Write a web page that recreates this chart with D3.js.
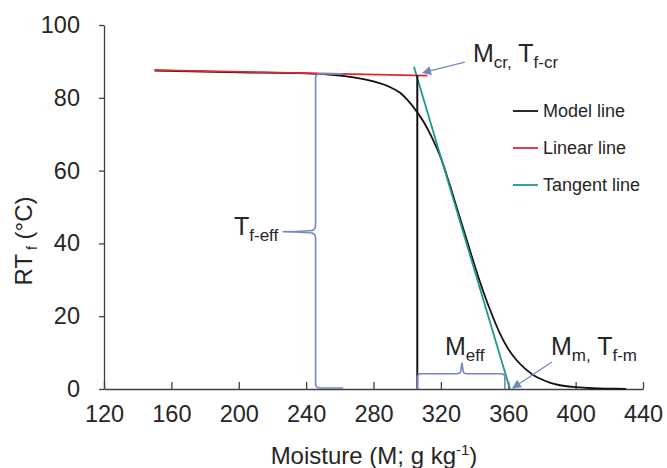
<!DOCTYPE html>
<html>
<head>
<meta charset="utf-8">
<script src="https://cdn.jsdelivr.net/npm/d3@7"></script>
<style>
  body { margin: 0; background: #fff; }
  svg { display: block; font-family: "Liberation Sans", Arial, sans-serif; }
</style>
</head>
<body>
<div id="chart"></div>
<script>
// values
var xTicks = [120, 160, 200, 240, 280, 320, 360, 400, 440];
var yTicks = [0, 20, 40, 60, 80, 100];

var modelM = [150, 200, 240, 250, 260, 270, 280, 290, 296, 300, 306, 310, 315, 320, 325, 330, 335, 340, 345, 350, 355, 360, 365, 370, 375, 380, 385, 390, 400, 410, 420, 430];
var modelT = [87.5, 87.0, 86.7, 86.5, 86.1, 85.5, 84.5, 82.9, 81.3, 79.5, 76.0, 73.2, 68.8, 63.5, 56.5, 49.0, 41.5, 34.0, 27.0, 20.8, 15.3, 11.0, 7.9, 5.6, 3.8, 2.6, 1.7, 1.1, 0.5, 0.2, 0.1, 0.05];

var linearM = [150, 312];
var linearT = [87.6, 86.1];

var tangentM = [304, 361];
var tangentT = [88.5, 0];

var critM = 306, critT = 86.2;

var legendNames = ["Model line", "Linear line", "Tangent line"];
var legendColors = ["#111111", "#e3262b", "#1e9a8a"];

var W = 667, H = 468;
var x = d3.scaleLinear().domain([120, 440]).range([104, 643]);
var y = d3.scaleLinear().domain([0, 100]).range([389, 25]);

var svg = d3.select("#chart").append("svg")
    .attr("width", W)
    .attr("height", H);

var axisColor = "#404040";
var textColor = "#262626";
var braceColor = "#7088be";

// axes
var gx = svg.append("g")
    .attr("transform", "translate(0," + y(0) + ")")
    .call(d3.axisBottom(x).tickValues(xTicks).tickSizeInner(-7).tickSizeOuter(0).tickPadding(16));
var gy = svg.append("g")
    .attr("transform", "translate(" + x(120) + ",0)")
    .call(d3.axisLeft(y).tickValues(yTicks).tickSizeInner(5).tickSizeOuter(0).tickPadding(19));
[gx, gy].forEach(function (g) {
    g.selectAll("path, line").attr("stroke", axisColor).attr("stroke-width", 1.3);
    g.selectAll("text").attr("fill", textColor).style("font-size", "23.5px");
});

// axis titles
var xt = svg.append("text")
    .attr("x", 374).attr("y", 464)
    .attr("text-anchor", "middle")
    .attr("fill", textColor)
    .style("font-size", "24px");
xt.append("tspan").text("Moisture  (M; g kg");
xt.append("tspan").attr("dy", -9).style("font-size", "15px").text("-1");
xt.append("tspan").attr("dy", 9).text(")");

var yt = svg.append("text")
    .attr("transform", "translate(32,241) rotate(-90)")
    .attr("text-anchor", "middle")
    .attr("fill", textColor)
    .style("font-size", "24px");
yt.append("tspan").text("RT");
yt.append("tspan").attr("dy", 5).style("font-size", "14px").text(" f");
yt.append("tspan").attr("dy", -5).text(" (°C)");

// lines
var line = d3.line().x(function (d) { return x(d[0]); }).y(function (d) { return y(d[1]); });

svg.append("path")
    .datum(modelM.map(function (m, i) { return [m, modelT[i]]; }))
    .attr("d", line.curve(d3.curveMonotoneX))
    .attr("fill", "none").attr("stroke", "#111").attr("stroke-width", 1.8);
line.curve(d3.curveLinear);

svg.append("path")
    .datum(linearM.map(function (m, i) { return [m, linearT[i]]; }))
    .attr("d", line)
    .attr("fill", "none").attr("stroke", "#e3262b").attr("stroke-width", 1.9);

svg.append("path")
    .datum(tangentM.map(function (m, i) { return [m, tangentT[i]]; }))
    .attr("d", line)
    .attr("fill", "none").attr("stroke", "#1e9a8a").attr("stroke-width", 1.8);

svg.append("line")
    .attr("x1", x(critM)).attr("x2", x(critM))
    .attr("y1", y(0)).attr("y2", y(critT))
    .attr("stroke", "#111").attr("stroke-width", 2);

// braces
var bx = x(245.6), bTop = y(86.3), bBot = y(0), bMid = y(43.2);
var bR = x(262), bTip = x(226);
svg.append("path")
    .attr("d", "M" + bR + "," + (bTop - 1) +
        " L" + (bx + 4) + "," + (bTop - 1) +
        " Q" + bx + "," + (bTop - 1) + " " + bx + "," + (bTop + 4) +
        " L" + bx + "," + (bMid - 6) +
        " Q" + bx + "," + (bMid - 1) + " " + (bx - 6) + "," + (bMid - 1) +
        " Q" + (bx - 20) + "," + bMid + " " + bTip + "," + bMid +
        " M" + bx + "," + (bMid + 6) +
        " Q" + bx + "," + (bMid + 1) + " " + (bx - 6) + "," + (bMid + 1) +
        " Q" + (bx - 20) + "," + bMid + " " + bTip + "," + bMid +
        " M" + bx + "," + (bMid + 6) +
        " L" + bx + "," + (bBot - 5) +
        " Q" + bx + "," + (bBot - 1) + " " + (bx + 5) + "," + (bBot - 1) +
        " L" + bR + "," + (bBot - 1))
    .attr("fill", "none").attr("stroke", braceColor).attr("stroke-width", 1.6);

var hy = y(4.2), hL = x(critM), hR = x(358), hm = x(332.5), hTip = y(7.2);
svg.append("path")
    .attr("d", "M" + hL + "," + bBot +
        " L" + hL + "," + (hy + 4) +
        " Q" + hL + "," + hy + " " + (hL + 4) + "," + hy +
        " L" + (hm - 5) + "," + hy +
        " Q" + (hm - 1) + "," + hy + " " + (hm - 1) + "," + (hy - 4) +
        " L" + hm + "," + hTip +
        " L" + (hm + 1) + "," + (hy - 4) +
        " Q" + (hm + 1) + "," + hy + " " + (hm + 5) + "," + hy +
        " L" + (hR - 4) + "," + hy +
        " Q" + hR + "," + hy + " " + hR + "," + (hy + 4) +
        " L" + hR + "," + bBot)
    .attr("fill", "none").attr("stroke", braceColor).attr("stroke-width", 1.6);

// arrows
svg.append("defs").append("marker")
    .attr("id", "head")
    .attr("viewBox", "0 0 10 10")
    .attr("refX", 9).attr("refY", 5)
    .attr("markerWidth", 10).attr("markerHeight", 9)
    .attr("markerUnits", "userSpaceOnUse")
    .attr("orient", "auto")
    .append("path").attr("d", "M0,0 L10,5 L0,10 Z").attr("fill", braceColor);

var arrows = [[334.2, 89.8, 309.3, 86.9], [385.9, 7.4, 362.7, 0.3]];
arrows.forEach(function (a) {
    svg.append("line")
        .attr("x1", x(a[0])).attr("y1", y(a[1]))
        .attr("x2", x(a[2])).attr("y2", y(a[3]))
        .attr("stroke", braceColor).attr("stroke-width", 1.2)
        .attr("marker-end", "url(#head)");
});

// annotation labels
function label(px, py, parts) {
    var t = svg.append("text").attr("x", px).attr("y", py).attr("fill", textColor).style("font-size", "25px");
    var shift = 0;
    parts.forEach(function (p) {
        var want = p[1] ? 6 : 0;
        t.append("tspan").attr("dy", want - shift).style("font-size", p[1] ? "17px" : "25px").text(p[0]);
        shift = want;
    });
}
label(473, 62, [["M", 0], ["cr,", 1], [" T", 0], ["f-cr", 1]]);
label(234, 235, [["T", 0], ["f-eff", 1]]);
label(445, 355, [["M", 0], ["eff", 1]]);
label(551, 355, [["M", 0], ["m,", 1], [" T", 0], ["f-m", 1]]);

// legend
var lg = svg.append("g").selectAll("g")
    .data(legendNames)
    .enter().append("g")
    .attr("transform", function (d, i) { return "translate(513," + (111 + i * 37) + ")"; });
lg.append("line")
    .attr("x1", 0).attr("x2", 25)
    .attr("stroke", function (d, i) { return legendColors[i]; })
    .attr("stroke-width", 1.8);
lg.append("text")
    .attr("x", 30).attr("dy", "0.35em")
    .attr("fill", textColor)
    .style("font-size", "18px")
    .text(function (d) { return d; });
</script>
</body>
</html>
